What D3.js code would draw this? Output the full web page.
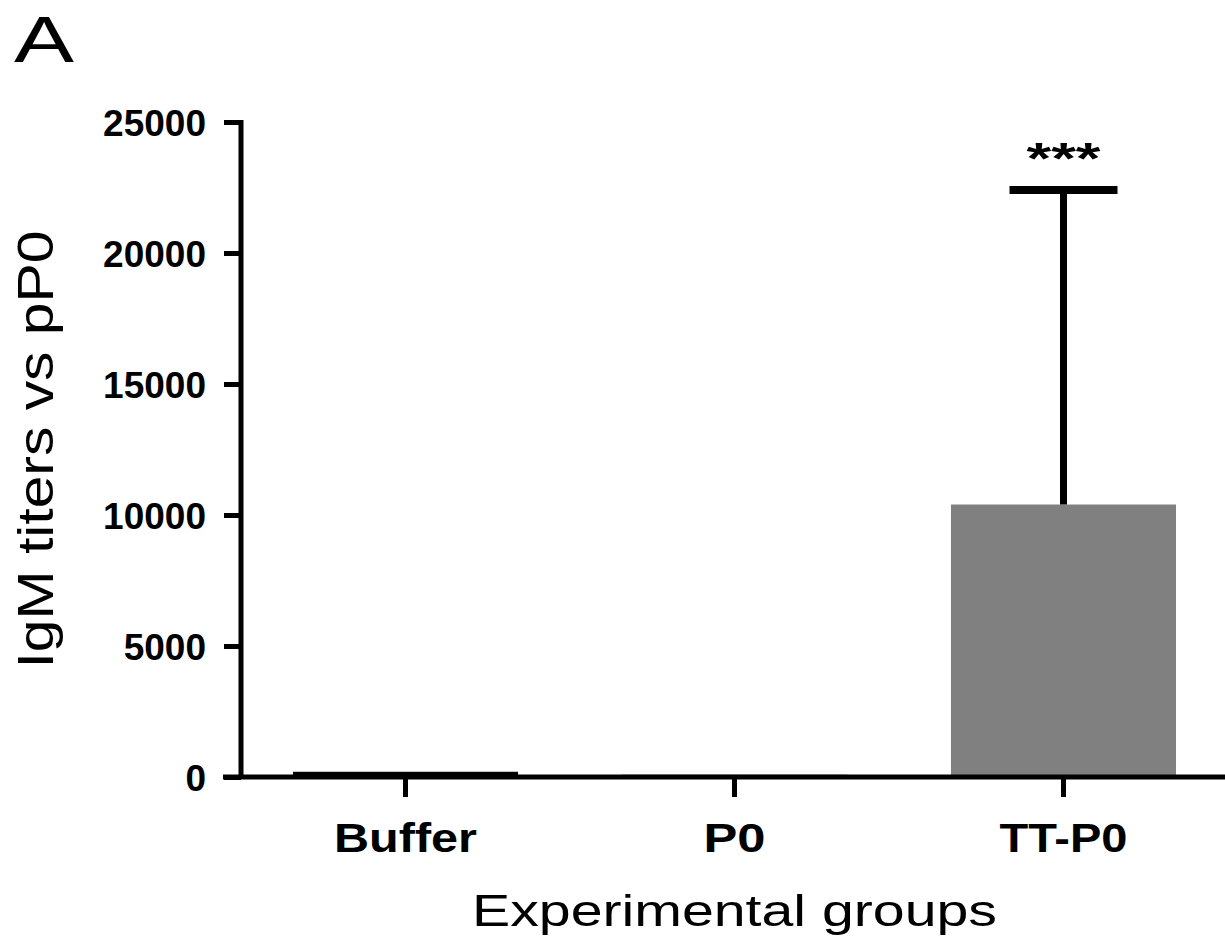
<!DOCTYPE html>
<html>
<head>
<meta charset="utf-8">
<script src="https://cdn.jsdelivr.net/npm/d3@7"></script>
<style>
  body { margin: 0; background: #fff; }
  text { font-family: "Liberation Sans", Arial, sans-serif; fill: #000; }
</style>
</head>
<body>
<svg id="chart" width="1225" height="950"></svg>
<script>
  var groups = ['Buffer', 'P0', 'TT-P0'];
  var means = [200, 90, 10400];
  var sds = [0, 0, 12000];
  var stars = ['', '', '***'];
  var barColors = ['#000000', '#808080', '#808080'];
  var yTicks = [0, 5000, 10000, 15000, 20000, 25000];

  (function() {
    var svg = d3.select('#chart');
    var plotLeft = 241, plotRight = 1228, plotTop = 122, plotBottom = 777;

    var x = d3.scaleBand().domain(groups).range([plotLeft, plotRight])
      .paddingInner(0.316).paddingOuter(0.158);
    var y = d3.scaleLinear().domain([0, 25000]).range([plotBottom, plotTop]);

    var mid = function(d) { return x(d) + x.bandwidth() / 2; };
    var idx = function(d) { return groups.indexOf(d); };

    // bars
    svg.selectAll('.bar').data(groups).enter().append('rect')
      .attr('x', function(d) { return x(d); })
      .attr('width', x.bandwidth())
      .attr('y', function(d, i) { return y(means[i]); })
      .attr('height', function(d, i) { return plotBottom - y(means[i]); })
      .attr('fill', function(d, i) { return barColors[i]; });

    // error bars (upper only)
    var err = svg.selectAll('.err').data(groups.filter(function(d, i) { return sds[i] > 0; }))
      .enter().append('g');
    err.append('line')
      .attr('x1', mid).attr('x2', mid)
      .attr('y1', function(d) { return y(means[idx(d)]); })
      .attr('y2', function(d) { return y(means[idx(d)] + sds[idx(d)]); })
      .attr('stroke', '#000').attr('stroke-width', 7);
    err.append('line')
      .attr('x1', function(d) { return mid(d) - 54; })
      .attr('x2', function(d) { return mid(d) + 54; })
      .attr('y1', function(d) { return y(means[idx(d)] + sds[idx(d)]); })
      .attr('y2', function(d) { return y(means[idx(d)] + sds[idx(d)]); })
      .attr('stroke', '#000').attr('stroke-width', 8);
    err.append('text')
      .attr('x', mid)
      .attr('y', function(d) { return y(means[idx(d)] + sds[idx(d)]) - 16; })
      .attr('text-anchor', 'middle')
      .attr('font-size', 44).attr('font-weight', 'bold')
      .attr('textLength', 74).attr('lengthAdjust', 'spacingAndGlyphs')
      .text(function(d) { return stars[idx(d)]; });

    // y axis
    var yAxis = svg.append('g').attr('transform', 'translate(' + plotLeft + ',0)')
      .call(d3.axisLeft(y).tickValues(yTicks).tickSize(17).tickPadding(18).tickFormat(d3.format('d')));
    yAxis.select('.domain').attr('d', 'M0,' + plotBottom + 'V' + (plotTop - 2)).attr('stroke-width', 5);
    yAxis.selectAll('.tick line').attr('stroke-width', 5);
    yAxis.selectAll('.tick text').attr('font-size', 37).attr('font-weight', 'bold')
      .attr('font-family', '"Liberation Sans", Arial, sans-serif').attr('dy', '0.36em');

    // x axis
    var xAxis = svg.append('g').attr('transform', 'translate(0,' + plotBottom + ')')
      .call(d3.axisBottom(x).tickSize(20).tickPadding(26));
    xAxis.select('.domain').attr('d', 'M' + (plotLeft - 18) + ',0H1225').attr('stroke-width', 5);
    xAxis.selectAll('.tick line').attr('stroke-width', 5);
    xAxis.selectAll('.tick text').attr('font-size', 41).attr('font-weight', 'bold')
      .attr('font-family', '"Liberation Sans", Arial, sans-serif')
      .attr('textLength', function(d) { return {'Buffer': 143, 'P0': 62, 'TT-P0': 128}[d]; })
      .attr('lengthAdjust', 'spacingAndGlyphs');

    // titles
    svg.append('text').attr('x', (plotLeft + plotRight) / 2).attr('y', 926)
      .attr('text-anchor', 'middle').attr('font-size', 45)
      .attr('textLength', 525).attr('lengthAdjust', 'spacingAndGlyphs')
      .text('Experimental groups');

    svg.append('text').attr('transform', 'translate(53,' + (plotTop + plotBottom) / 2 + ') rotate(-90)')
      .attr('text-anchor', 'middle').attr('font-size', 50)
      .attr('textLength', 438).attr('lengthAdjust', 'spacingAndGlyphs')
      .text('IgM titers vs pP0');

    svg.append('text').attr('x', 14).attr('y', 62)
      .attr('font-size', 64)
      .attr('textLength', 60).attr('lengthAdjust', 'spacingAndGlyphs')
      .text('A');
  })();
</script>
</body>
</html>
